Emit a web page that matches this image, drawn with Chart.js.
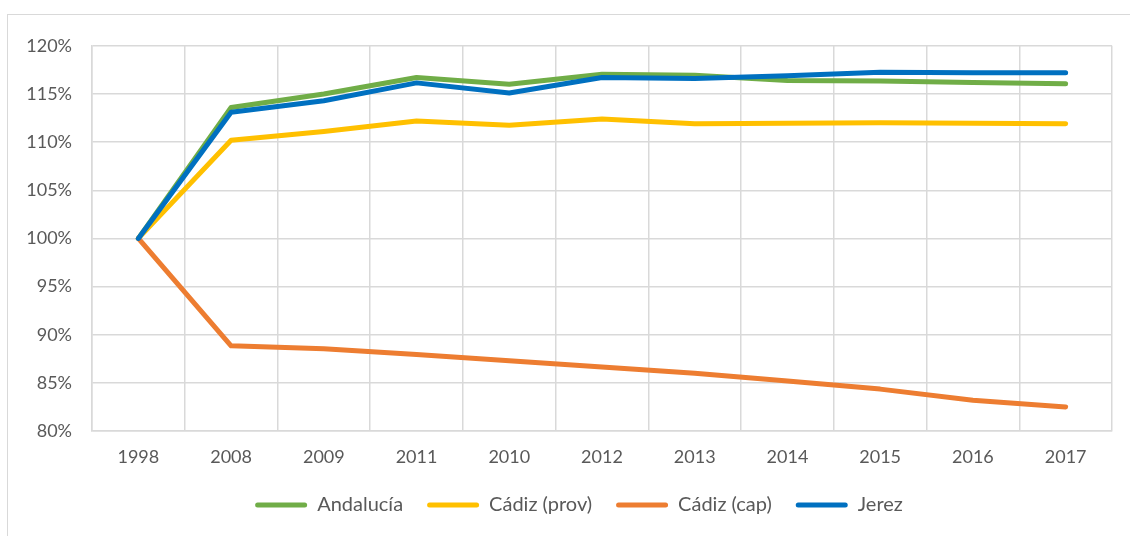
<!DOCTYPE html>
<html><head><meta charset="utf-8">
<script src="https://cdn.jsdelivr.net/npm/chart.js@4.4.0/dist/chart.umd.min.js"></script>
<style>
html,body{margin:0;padding:0;background:#fff;overflow:hidden;width:1130px;height:536px;}
#box{position:absolute;left:7px;top:14px;width:1160px;height:560px;border:1px solid #d9d9d9;box-sizing:border-box;}
#c{position:absolute;left:8px;top:15px;}
</style></head>
<body><div id="box"></div><canvas id="c" width="1142" height="530"></canvas>
<script>
const categories = ['1998','2008','2009','2011','2010','2012','2013','2014','2015','2016','2017'];
const andalucia = [100, 113.6, 115.0, 116.7, 116.0, 117.05, 116.95, 116.4, 116.35, 116.2, 116.05];
const cadizProv = [100, 110.2, 111.1, 112.2, 111.75, 112.4, 111.9, 111.95, 112.0, 111.95, 111.9];
const cadizCap = [100, 88.85, 88.55, 87.95, 87.3, 86.65, 86.0, 85.2, 84.35, 83.2, 82.5];
const jerez = [100, 113.1, 114.3, 116.15, 115.1, 116.7, 116.6, 116.9, 117.25, 117.2, 117.2];
const yTicks = [80, 85, 90, 95, 100, 105, 110, 115, 120];

const FONT = 'Lato';
const TXT = '#595959';
const GRID = '#d9d9d9';

function ds(label, data, color, order){
  return {label, data, borderColor: color, backgroundColor: color, borderWidth: 5,
    pointRadius: 0, pointHoverRadius: 0, tension: 0, borderCapStyle: 'round', borderJoinStyle: 'round', order, fill:false};
}

new Chart(document.getElementById('c'), {
  type: 'line',
  data: {
    labels: categories,
    datasets: [
      ds('Andalucía', andalucia, '#70AD47', 4),
      ds('Cádiz (prov)', cadizProv, '#FFC000', 3),
      ds('Cádiz (cap)', cadizCap, '#ED7D31', 2),
      ds('Jerez', jerez, '#0070C0', 1)
    ]
  },
  options: {
    responsive: false,
    animation: false,
    layout: {padding: {top: 29, right: 0, left: 0, bottom: 20}},
    plugins: {
      tooltip: {enabled: false},
      legend: {
        position: 'bottom',
        labels: {
          boxWidth: 52, boxHeight: 5, useBorderRadius: true, borderRadius: 2.5,
          padding: 24, color: TXT, font: {family: FONT, size: 20},
          sort: (a, b) => a.datasetIndex - b.datasetIndex,
          generateLabels(chart){
            const items = Chart.defaults.plugins.legend.labels.generateLabels(chart);
            items.forEach(i => { i.lineWidth = 0; i.fillStyle = i.strokeStyle; });
            return items;
          }
        }
      }
    },
    scales: {
      x: {
        offset: true,
        grid: {offset: true, color: GRID, lineWidth: 1.5, drawTicks: false},
        border: {color: GRID, width: 1.5},
        ticks: {color: TXT, font: {family: FONT, size: 18}, padding: 15, maxRotation: 0},
        afterFit(s){ s.height = 40; }
      },
      y: {
        min: 80, max: 120,
        afterBuildTicks(s){ s.ticks = yTicks.map(v => ({value: v})); },
        grid: {color: GRID, lineWidth: 1.5, drawTicks: false},
        border: {color: GRID, width: 1.5},
        ticks: {color: TXT, font: {family: FONT, size: 18}, padding: 20, callback: v => v + '%'},
        afterFit(s){ s.width = 84; }
      },
      yRight: {
        position: 'right', min: 0, max: 1,
        grid: {drawOnChartArea: false, drawTicks: false},
        border: {display: false},
        ticks: {display: false},
        afterFit(s){ s.width = 38; }
      }
    }
  }
});
</script>
</body></html>
